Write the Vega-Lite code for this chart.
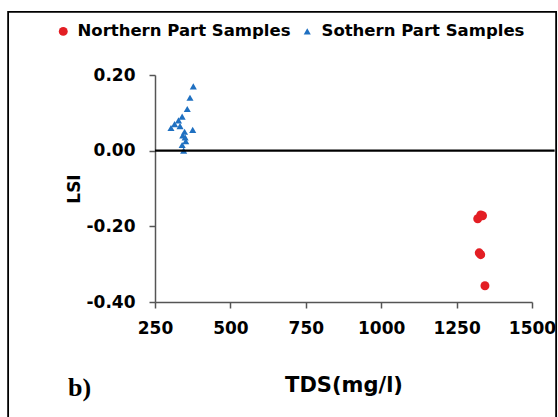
{
  "$schema": "https://vega.github.io/schema/vega-lite/v6.json",
  "width": 377,
  "height": 227,
  "autosize": {"type": "none"},
  "padding": {"left": 155, "top": 75, "right": 26, "bottom": 115},
  "background": "white",
  "config": {"view": {"stroke": null}, "font": "DejaVu Sans"},
  "title": {"text": "b)", "orient": "bottom", "anchor": "start", "frame": "group", "font": "Liberation Serif", "fontSize": 26, "fontWeight": "bold", "color": "black", "dx": -87, "offset": -64},
  "layer": [
    {
      "data": {"values": [{}]},
      "mark": {"type": "rect", "filled": false, "fill": null, "stroke": "black", "strokeWidth": 1.8, "clip": false},
      "encoding": {
        "x": {"datum": -237, "type": "quantitative", "scale": {"domain": [250, 1500], "nice": false, "zero": false}},
        "x2": {"datum": 1580},
        "y": {"datum": 0.367, "type": "quantitative", "scale": {"domain": [-0.4, 0.2], "nice": false, "zero": false}},
        "y2": {"datum": -0.76}
      }
    },
    {
      "data": {"values": [
        {"TDS": 1320, "LSI": -0.18, "Series": "Northern Part Samples"},
        {"TDS": 1330, "LSI": -0.17, "Series": "Northern Part Samples"},
        {"TDS": 1336, "LSI": -0.172, "Series": "Northern Part Samples"},
        {"TDS": 1325, "LSI": -0.27, "Series": "Northern Part Samples"},
        {"TDS": 1330, "LSI": -0.275, "Series": "Northern Part Samples"},
        {"TDS": 1344, "LSI": -0.357, "Series": "Northern Part Samples"},
        {"TDS": 377, "LSI": 0.17, "Series": "Sothern Part Samples"},
        {"TDS": 366, "LSI": 0.14, "Series": "Sothern Part Samples"},
        {"TDS": 357, "LSI": 0.11, "Series": "Sothern Part Samples"},
        {"TDS": 340, "LSI": 0.09, "Series": "Sothern Part Samples"},
        {"TDS": 328, "LSI": 0.08, "Series": "Sothern Part Samples"},
        {"TDS": 303, "LSI": 0.06, "Series": "Sothern Part Samples"},
        {"TDS": 315, "LSI": 0.07, "Series": "Sothern Part Samples"},
        {"TDS": 333, "LSI": 0.065, "Series": "Sothern Part Samples"},
        {"TDS": 348, "LSI": 0.05, "Series": "Sothern Part Samples"},
        {"TDS": 375, "LSI": 0.055, "Series": "Sothern Part Samples"},
        {"TDS": 342, "LSI": 0.04, "Series": "Sothern Part Samples"},
        {"TDS": 352, "LSI": 0.025, "Series": "Sothern Part Samples"},
        {"TDS": 340, "LSI": 0.015, "Series": "Sothern Part Samples"},
        {"TDS": 345, "LSI": 0.0, "Series": "Sothern Part Samples"},
        {"TDS": 350, "LSI": 0.035, "Series": "Sothern Part Samples"}
      ]},
      "mark": {"type": "point", "filled": true, "opacity": 1, "clip": false},
      "encoding": {
        "x": {"field": "TDS", "type": "quantitative", "title": "TDS(mg/l)",
          "scale": {"domain": [250, 1500], "nice": false, "zero": false},
          "axis": {"values": [250, 500, 750, 1000, 1250, 1500], "format": "d", "grid": false, "labelFlush": false, "labelOverlap": false,
            "domainColor": "#555555", "domainWidth": 1.5, "tickColor": "#555555", "tickWidth": 1.5, "tickSize": 6,
            "labelFont": "DejaVu Sans", "labelFontSize": 17, "labelFontWeight": "bold", "labelColor": "black", "labelPadding": 12,
            "titleFont": "DejaVu Sans", "titleFontSize": 21, "titleFontWeight": "bold", "titleColor": "black", "titlePadding": 38}},
        "y": {"field": "LSI", "type": "quantitative", "title": "LSI",
          "scale": {"domain": [-0.4, 0.2], "nice": false, "zero": false},
          "axis": {"values": [-0.4, -0.2, 0, 0.2], "labelExpr": "replace(format(datum.value, '.2f'), '\u2212', '-')", "grid": false, "labelFlush": false,
            "domainColor": "#555555", "domainWidth": 1.5, "tickColor": "#555555", "tickWidth": 1.5, "tickSize": 6,
            "labelFont": "DejaVu Sans", "labelFontSize": 17, "labelFontWeight": "bold", "labelColor": "black", "labelPadding": 14,
            "titleFont": "DejaVu Sans", "titleFontSize": 17, "titleFontWeight": "bold", "titleColor": "black", "titlePadding": 3}},
        "color": {"field": "Series", "type": "nominal",
          "scale": {"domain": ["Northern Part Samples", "Sothern Part Samples"], "range": ["#e31e24", "#1f70c1"]},
          "legend": {"orient": "none", "legendX": -100, "legendY": -52, "direction": "horizontal", "title": null, "labelLimit": 400,
            "labelFont": "DejaVu Sans", "labelFontSize": 16.5, "labelFontWeight": "bold", "labelColor": "black", "symbolSize": 60, "labelOffset": 6, "columnPadding": 8}},
        "shape": {"field": "Series", "type": "nominal",
          "scale": {"domain": ["Northern Part Samples", "Sothern Part Samples"], "range": ["circle", "triangle-up"]}},
        "size": {"field": "Series", "type": "nominal",
          "scale": {"domain": ["Northern Part Samples", "Sothern Part Samples"], "range": [80, 50]}, "legend": null}
      }
    },
    {
      "data": {"values": [{}]},
      "mark": {"type": "rule", "color": "black", "strokeWidth": 2.2, "clip": false},
      "encoding": {
        "y": {"datum": 0, "type": "quantitative", "scale": {"domain": [-0.4, 0.2], "nice": false, "zero": false}},
        "x": {"datum": 250, "type": "quantitative", "scale": {"domain": [250, 1500], "nice": false, "zero": false}},
        "x2": {"datum": 1575}
      }
    }
  ]
}
